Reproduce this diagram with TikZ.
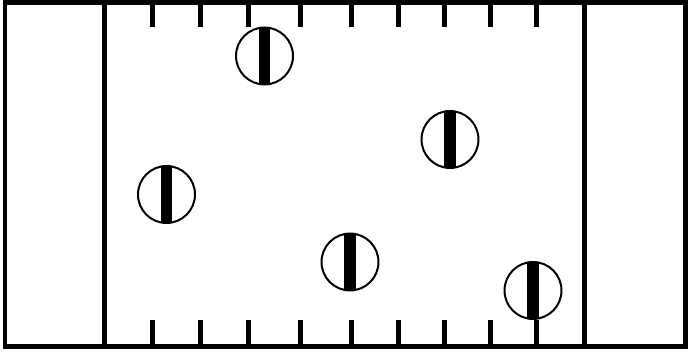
\documentclass[tikz,border=0pt]{standalone}
\usepackage{tikz}

\tikzset{
  wall/.style={line width=0.1cm},
  tick/.style={line width=0.1cm},
  rotor/.style={circle,draw,line width=0.04cm,minimum size=1.14cm,inner sep=0pt,
    path picture={\fill ([xshift=-0.115cm]path picture bounding box.north) rectangle ([xshift=0.115cm]path picture bounding box.south);}}
}

\begin{document}
\begin{tikzpicture}[x=0.02cm,y=-0.02cm]
\useasboundingbox (0,0) rectangle (697,354);
% frame and end zones
\draw[wall] (5,2.5) rectangle (685.5,347);
\draw[wall] (104,2.5) -- (104,347);
\draw[wall] (584.5,2.5) -- (584.5,347);
% ticks along both sides
\foreach \x in {152,200,248,300,351,398,444,490,536}{
  \draw[tick] (\x,2.5) -- (\x,27);
  \draw[tick] (\x,320) -- (\x,347);
}
% rotors
\node[rotor] (r1) at (264.5,56) {};
\node[rotor] (r2) at (450,139.5) {};
\node[rotor] (r3) at (166.5,194.5) {};
\node[rotor] (r4) at (350,262) {};
\node[rotor] (r5) at (533,290.5) {};
\end{tikzpicture}
\end{document}
